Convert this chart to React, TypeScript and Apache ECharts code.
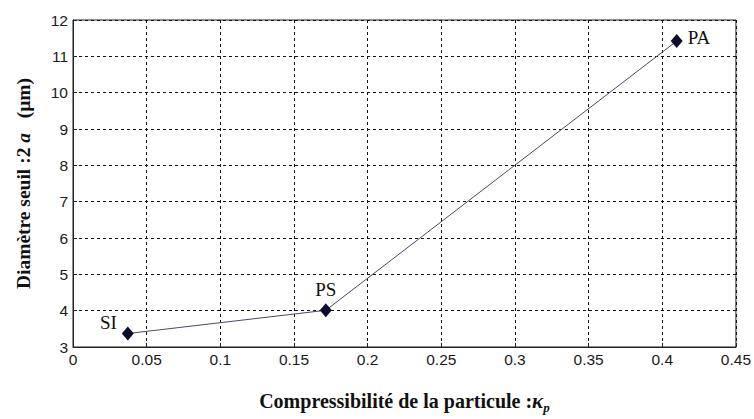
import React, { useEffect, useRef } from "react";
import * as echarts from "echarts";

const materials = ["SI", "PS", "PA"];
const compressibility = [0.0372, 0.1716, 0.4098];
const thresholdDiameter = [3.37, 4.01, 11.42];
const labelPositions = ["left", "top", "right"];

export default function App() {
  const ref = useRef<HTMLDivElement>(null);
  useEffect(() => {
    if (!ref.current) return;
    const chart = echarts.init(ref.current, null, { renderer: "svg" });
    const labelOffsets: Record<string, number[]> = {
      left: [0, -11],
      top: [0, 1],
      right: [0, -4],
    };
    const data = materials.map((m, i) => ({
      value: [compressibility[i], thresholdDiameter[i]],
      name: m,
      label: {
        show: true,
        formatter: m,
        position: labelPositions[i],
        offset: labelOffsets[labelPositions[i]],
        fontFamily: "Liberation Serif",
        fontSize: 19,
        color: "#111",
      },
    }));
    const tickLabel = {
      fontFamily: "Liberation Sans",
      fontSize: 15.5,
      color: "#1a1a1a",
    };
    chart.setOption({
      animation: false,
      backgroundColor: "#fff",
      grid: {
        left: 73,
        right: 16,
        top: 20,
        bottom: 64,
        show: true,
        borderColor: "#222",
        borderWidth: 1,
        backgroundColor: "#fff",
      },
      xAxis: {
        type: "value",
        min: 0,
        max: 0.45,
        interval: 0.05,
        axisLine: { show: true, lineStyle: { color: "#222", width: 1 } },
        axisTick: { show: true, inside: true, length: 4, lineStyle: { color: "#222" } },
        axisLabel: { ...tickLabel, margin: 4, formatter: (v: number) => String(+v.toFixed(2)) },
        splitLine: { show: true, lineStyle: { color: "#111", type: [3, 3], width: 1 } },
        name: "{b|Compressibilité de la particule :}{k|κ}{s|p}",
        nameLocation: "middle",
        nameGap: 40,
        nameTextStyle: {
          rich: {
            b: { fontFamily: "Liberation Serif", fontWeight: "bold", fontSize: 20, color: "#111" },
            k: { fontFamily: "Liberation Serif", fontWeight: "bold", fontStyle: "italic", fontSize: 21, color: "#111" },
            s: { fontFamily: "Liberation Serif", fontWeight: "bold", fontStyle: "italic", fontSize: 13, color: "#111", padding: [14, 0, 0, 0] },
          },
        },
      },
      yAxis: {
        type: "value",
        min: 3,
        max: 12,
        interval: 1,
        axisLine: { show: true, lineStyle: { color: "#222", width: 1 } },
        axisTick: { show: true, inside: true, length: 4, lineStyle: { color: "#222" } },
        axisLabel: { ...tickLabel, margin: 5 },
        splitLine: { show: true, lineStyle: { color: "#111", type: [3, 3], width: 1 } },
        name: "{b|Diamètre seuil :2 }{a|a}{b|   (µm)}",
        nameLocation: "middle",
        nameGap: 40,
        nameRotate: 90,
        nameTextStyle: {
          rich: {
            b: { fontFamily: "Liberation Serif", fontWeight: "bold", fontSize: 19.5, color: "#111" },
            a: { fontFamily: "Liberation Serif", fontWeight: "bold", fontStyle: "italic", fontSize: 19.5, color: "#111" },
          },
        },
      },
      series: [
        {
          type: "line",
          data,
          symbol: "diamond",
          symbolSize: [12, 14],
          itemStyle: { color: "#0d0d2b" },
          lineStyle: { color: "#4a4a6a", width: 1 },
        },
      ],
    });
    return () => chart.dispose();
  }, []);
  return <div ref={ref} style={{ width: 754, height: 419, position: "fixed", left: 0, top: 0 }} />;
}
